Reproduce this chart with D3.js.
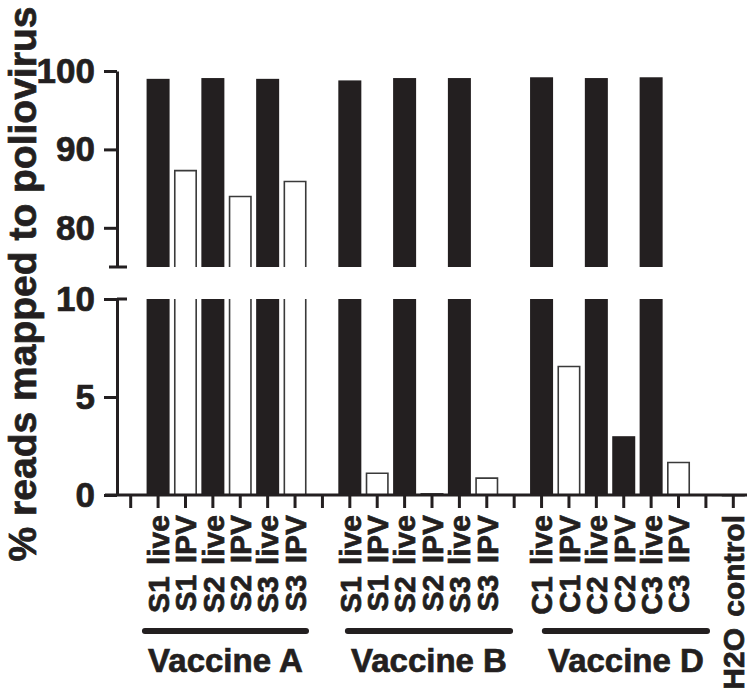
<!DOCTYPE html>
<html>
<head>
<meta charset="utf-8">
<script src="https://cdn.jsdelivr.net/npm/d3@7"></script>
<style>
  body { margin: 0; background: #fff; }
  svg text { font-family: "Liberation Sans", Arial, sans-serif; font-weight: bold; fill: #231f20;
    stroke: #231f20; stroke-width: 0.7px; }
</style>
</head>
<body>
<div id="c"></div>
<script>
// one slot per x tick, "" = empty spacer slot
var tick_labels = ["", "S1 live", "S1 IPV", "S2 live", "S2 IPV", "S3 live", "S3 IPV",
	"", "S1 live", "S1 IPV", "S2 live", "S2 IPV", "S3 live", "S3 IPV",
	"", "C1 live", "C1 IPV", "C2 live", "C2 IPV", "C3 live", "C3 IPV",
	"", "H2O control"];
var pct_values = [null, 99.0, 87.4, 99.1, 84.1, 99.0, 86.0,
	null, 98.8, 1.15, 99.1, 0.1, 99.1, 0.9,
	null, 99.2, 6.6, 99.1, 3.0, 99.2, 1.7,
	null, 0];
var solid_ipv = ["C2 IPV"];   // IPV sample drawn as a filled bar

var group_names = ["Vaccine A", "Vaccine B", "Vaccine D"];
var group_first = [1, 8, 15];
var group_last = [6, 13, 20];

var upper_ticks = [80, 90, 100];
var lower_ticks = [0, 5, 10];

var width = 750;
var height = 695;
var ink = "#231f20";

var svg = d3.select("#c").append("svg")
	.attr("width", width)
	.attr("height", height);

var x_scale = d3.scaleBand()
	.domain(d3.range(tick_labels.length))
	.range([117, 747])
	.paddingInner(0.16)
	.paddingOuter(0.08);

var y_upper = d3.scaleLinear().domain([75, 100]).range([267, 71]);
var y_lower = d3.scaleLinear().domain([0, 10]).range([495, 299]);

var step = x_scale.step();
function cx(i) { return x_scale(i) + x_scale.bandwidth() / 2; }

function is_solid(i) {
	var l = tick_labels[i];
	return l.indexOf("live") >= 0 || solid_ipv.indexOf(l) >= 0;
}

// bars: each one is cut into the part shown in the upper and lower panels
var bars = [];
for (var i = 0; i < pct_values.length; i++) {
	var v = pct_values[i];
	if (v === null) continue;
	bars.push({ i: i, v: v, y0: y_lower(0), y1: y_lower(Math.min(v, 10)), cut: v > 10 });
	if (v > 75) {
		bars.push({ i: i, v: v, y0: y_upper(75), y1: y_upper(Math.min(v, 100)), cut: false });
	}
}

var bar_g = svg.append("g");
bar_g.selectAll("rect")
	.data(bars)
	.enter()
	.append("rect")
	.attr("x", function(d) { return x_scale(d.i); })
	.attr("width", x_scale.bandwidth())
	.attr("y", function(d) { return d.y1; })
	.attr("height", function(d) { return d.y0 - d.y1; })
	.attr("fill", function(d) { return is_solid(d.i) ? ink : "#fff"; });

// outlines for the open bars, leaving the edge at the axis break open
bar_g.selectAll("path")
	.data(bars.filter(function(d) { return !is_solid(d.i); }))
	.enter()
	.append("path")
	.attr("fill", "none")
	.attr("stroke", "#3a3a3a")
	.attr("stroke-width", 1.6)
	.attr("d", function(d) {
		var x0 = x_scale(d.i) + 0.8, x1 = x_scale(d.i) + x_scale.bandwidth() - 0.8;
		if (d.cut) return "M" + x0 + "," + d.y0 + "V" + d.y1 + "M" + x1 + "," + d.y1 + "V" + d.y0;
		return "M" + x0 + "," + d.y0 + "V" + (d.y1 + 0.8) + "H" + x1 + "V" + d.y0;
	});

// y axes
function style_axis(g) {
	g.selectAll("path, line").attr("stroke", ink).attr("stroke-width", 3);
	g.selectAll("text").attr("font-size", 35).style("font-family", null);
}

svg.append("g")
	.attr("transform", "translate(117,0)")
	.call(d3.axisLeft(y_upper).tickValues(upper_ticks).tickSize(13).tickSizeOuter(0).tickPadding(9))
	.call(style_axis);

svg.append("g")
	.attr("transform", "translate(117,0)")
	.call(d3.axisLeft(y_lower).tickValues(lower_ticks).tickSize(13).tickSizeOuter(0).tickPadding(9))
	.call(style_axis);

// break caps
svg.append("line")
	.attr("x1", 109).attr("x2", 127)
	.attr("y1", y_upper(75)).attr("y2", y_upper(75))
	.attr("stroke", ink).attr("stroke-width", 3);
svg.append("line")
	.attr("x1", 117).attr("x2", 127)
	.attr("y1", y_lower(10)).attr("y2", y_lower(10))
	.attr("stroke", ink).attr("stroke-width", 3);

// x axis
var x_axis = svg.append("g")
	.attr("transform", "translate(0," + y_lower(0) + ")")
	.call(d3.axisBottom(x_scale).tickSize(13).tickSizeOuter(0)
		.tickFormat(function(i) { return tick_labels[i]; }));
x_axis.selectAll("path, line").attr("stroke", ink).attr("stroke-width", 3);
x_axis.selectAll("text")
	.attr("font-size", 30)
	.style("font-family", null)
	.style("word-spacing", "3px")
	.attr("text-anchor", "end")
	.attr("transform", "rotate(-90)")
	.attr("x", -20)
	.attr("y", 0)
	.attr("dy", "0.36em");
x_axis.select(".domain").attr("d", "M105,0H747");

// vaccine group bars + names
var group_nudge = [[-0.59, 0.51], [-0.18, 0.96], [0.01, 1.15]];
for (var g = 0; g < group_names.length; g++) {
	var gx0 = cx(group_first[g]) + group_nudge[g][0] * step + 3;
	var gx1 = cx(group_last[g]) + group_nudge[g][1] * step - 3;
	svg.append("line")
		.attr("x1", gx0).attr("x2", gx1)
		.attr("y1", 631).attr("y2", 631)
		.attr("stroke", ink)
		.attr("stroke-width", 6)
		.attr("stroke-linecap", "round");
	svg.append("text")
		.attr("x", (gx0 + gx1) / 2)
		.attr("y", 672)
		.attr("text-anchor", "middle")
		.attr("font-size", 33)
		.text(group_names[g]);
}

// y title
svg.append("text")
	.attr("transform", "rotate(-90)")
	.attr("x", -284)
	.attr("y", 36)
	.attr("text-anchor", "middle")
	.attr("font-size", 39)
	.text("% reads mapped to poliovirus");
</script>
</body>
</html>
